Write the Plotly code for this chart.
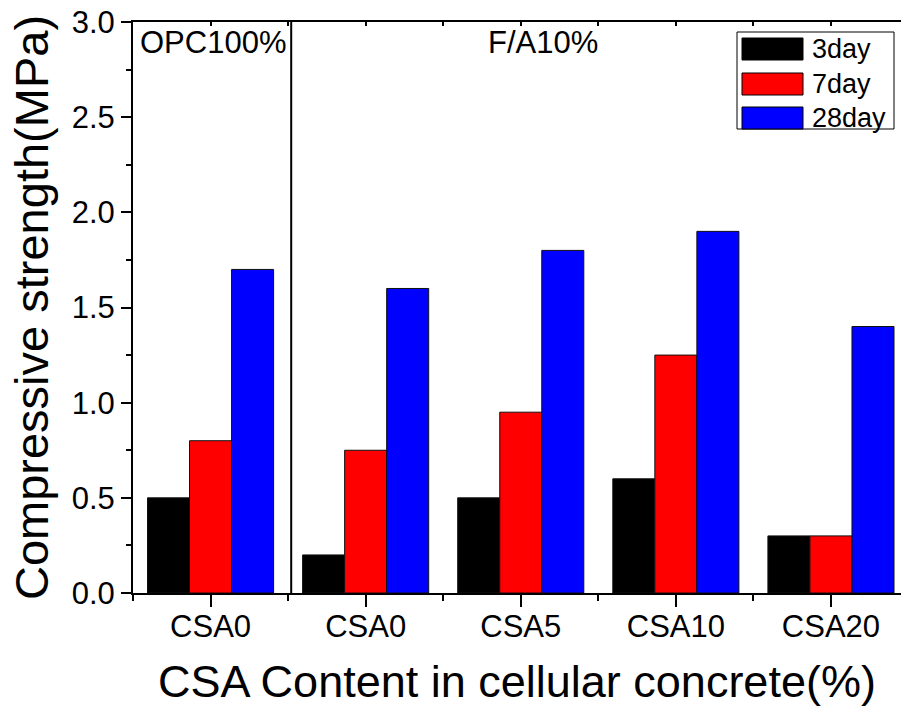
import plotly.graph_objects as go

# ---- data ----
categories = ["CSA0", "CSA0", "CSA5", "CSA10", "CSA20"]
series_names = ["3day", "7day", "28day"]
day3 = [0.5, 0.2, 0.5, 0.6, 0.3]
day7 = [0.8, 0.75, 0.95, 1.25, 0.3]
day28 = [1.7, 1.6, 1.8, 1.9, 1.4]
colors = ["#000000", "#ff0000", "#0000ff"]
group_labels = ["OPC100%", "F/A10%"]
y_ticks = [0.0, 0.5, 1.0, 1.5, 2.0, 2.5, 3.0]

W, H = 901, 715
L, T, B = 133, 22, 122
PW = W - L
PH = H - T - B

xpos = list(range(len(categories)))
x_end = (PW - 0.5) / 155 - 0.5

fig = go.Figure()
for name, vals, col in zip(series_names, [day3, day7, day28], colors):
    fig.add_trace(go.Bar(x=xpos, y=vals, name=name, marker=dict(color=col, line=dict(color="#101010", width=1)),
                         showlegend=False))

FONT = "Arial, Liberation Sans, sans-serif"

def px2x(px):
    return (px - L) / PW

def py2y(py):
    return (H - B - py) / PH

fig.update_layout(
    width=W, height=H,
    margin=dict(l=L, r=0, t=T, b=B),
    paper_bgcolor="white", plot_bgcolor="white",
    barmode="group", bargap=0.187, bargroupgap=0,
    font=dict(family=FONT, color="black"),
    xaxis=dict(
        range=[-0.5, x_end], tickmode="array", tickvals=xpos, ticktext=categories,
        showline=True, linecolor="black", linewidth=2, mirror=True,
        ticks="outside", ticklen=12, tickwidth=2, tickcolor="black",
        minor=dict(tickmode="array", tickvals=[i + 0.5 for i in range(-1, 5)], ticks="outside", ticklen=6,
                   tickwidth=2, tickcolor="black"),
        tickfont=dict(size=31), ticklabelstandoff=-7, showgrid=False, zeroline=False,
        title=dict(text="CSA Content in cellular concrete(%)", font=dict(size=45), standoff=22),
    ),
    yaxis=dict(
        range=[0, 3], tickmode="array", tickvals=y_ticks, ticktext=[f"{v:.1f}" for v in y_ticks],
        showline=True, linecolor="black", linewidth=2,
        ticks="outside", ticklen=10, tickwidth=2, tickcolor="black",
        minor=dict(dtick=0.25, tick0=0, ticks="outside", ticklen=5, tickwidth=2, tickcolor="black"),
        tickfont=dict(size=31), showgrid=False, zeroline=False,
        title=dict(text="Compressive strength(MPa)", font=dict(size=47), standoff=8),
    ),
    xaxis2=dict(
        overlaying="x", side="top", range=[-0.5, x_end], tickmode="array",
        tickvals=[i * 0.5 for i in range(-1, 10)], ticks="inside", ticklen=4, tickwidth=1.5, tickcolor="black",
        showticklabels=False, showgrid=False, zeroline=False, showline=False,
    ),
)

# dummy invisible trace to keep top axis drawn
fig.add_trace(go.Scatter(x=[-0.5, x_end], y=[None, None], xaxis="x2", showlegend=False, hoverinfo="skip"))

# divider between groups
fig.add_shape(type="line", xref="x", yref="paper", x0=0.52, x1=0.52, y0=0, y1=1,
              line=dict(color="black", width=2))

# group labels
fig.add_annotation(x=px2x(138), y=py2y(42), xref="paper", yref="paper", text=group_labels[0],
                   showarrow=False, xanchor="left", yanchor="middle", font=dict(size=31))
fig.add_annotation(x=px2x(543), y=py2y(42), xref="paper", yref="paper", text=group_labels[1],
                   showarrow=False, xanchor="center", yanchor="middle", font=dict(size=31))

# legend (drawn manually)
fig.add_shape(type="rect", xref="paper", yref="paper", x0=px2x(737), x1=px2x(894), y0=py2y(32), y1=py2y(129),
              line=dict(color="black", width=1), fillcolor="white")
row_c = [49, 84, 118]
for name, col, yc in zip(series_names, colors, row_c):
    fig.add_shape(type="rect", xref="paper", yref="paper", x0=px2x(742), x1=px2x(803),
                  y0=py2y(yc - 11), y1=py2y(yc + 11), line=dict(color="black", width=1), fillcolor=col)
    fig.add_annotation(x=px2x(810), y=py2y(yc), xref="paper", yref="paper", text=name, showarrow=False,
                       xanchor="left", yanchor="middle", font=dict(size=27))

fig.write_html("out.html")
